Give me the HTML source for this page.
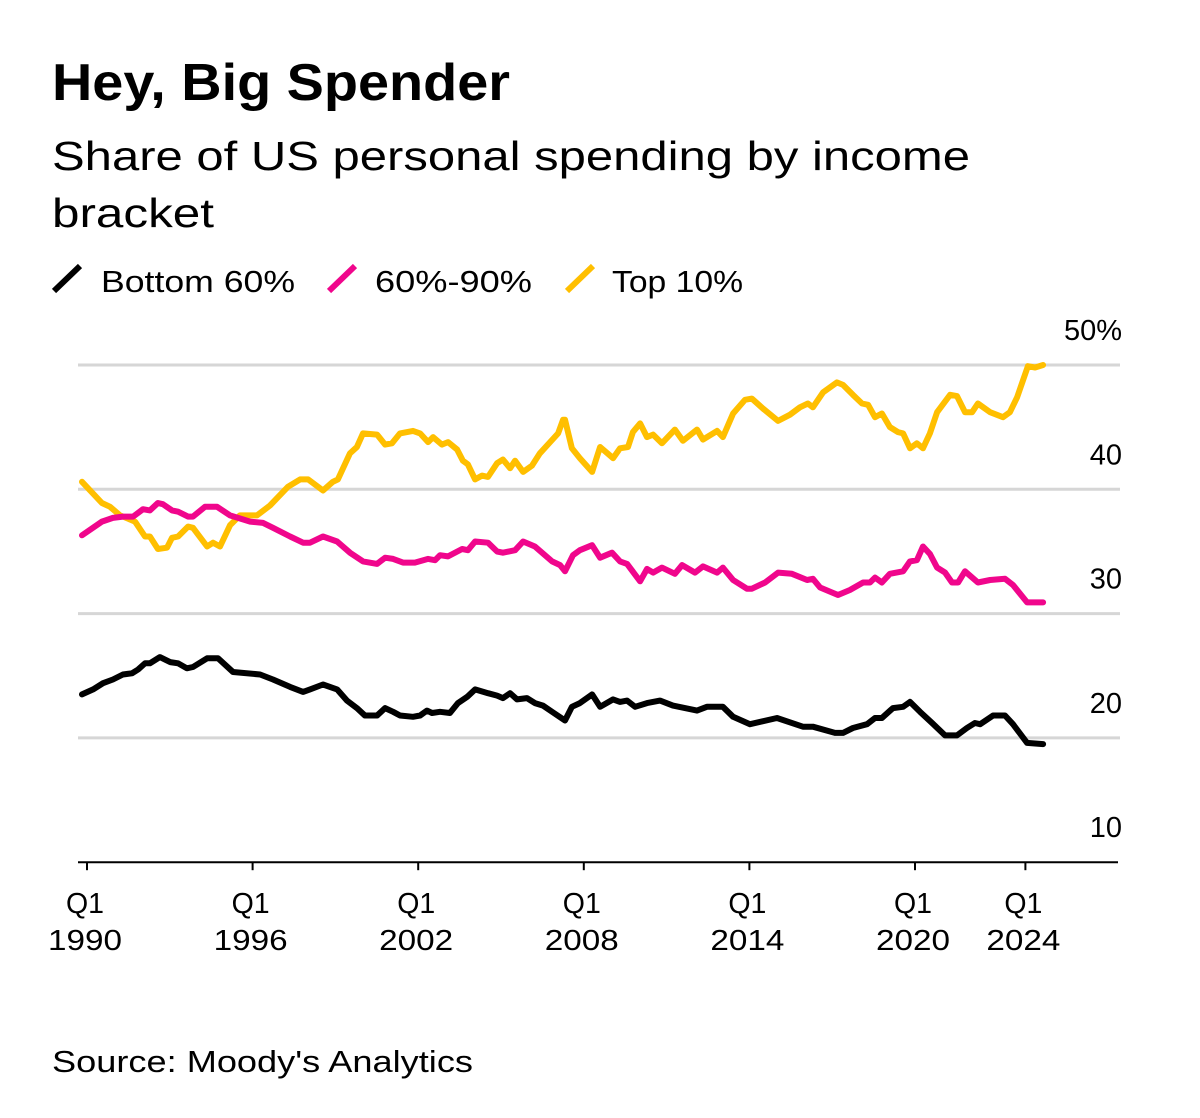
<!DOCTYPE html>
<html><head><meta charset="utf-8"><style>
body{margin:0;background:#fff;width:1200px;height:1118px;overflow:hidden;font-family:"Liberation Sans",Arial,sans-serif;}
svg{position:absolute;left:0;top:0}
</style></head><body>
<svg id="chart" width="1200" height="1118">
<text x="52" y="100" font-size="52" font-weight="bold" fill="#000" textLength="458" lengthAdjust="spacingAndGlyphs">Hey, Big Spender</text>
<text x="52" y="170" font-size="41" fill="#000" textLength="918" lengthAdjust="spacingAndGlyphs">Share of US personal spending by income</text>
<text x="52" y="227" font-size="41" fill="#000" textLength="162" lengthAdjust="spacingAndGlyphs">bracket</text>
<g>
<g><line x1="54" y1="291" x2="80" y2="266" stroke="#000" stroke-width="6"/><text x="101" y="292" font-size="31" textLength="194" lengthAdjust="spacingAndGlyphs">Bottom 60%</text></g>
<g><line x1="329" y1="291" x2="355" y2="266" stroke="#f0068c" stroke-width="6"/><text x="375" y="292" font-size="31" textLength="157" lengthAdjust="spacingAndGlyphs">60%-90%</text></g>
<g><line x1="567" y1="291" x2="593" y2="266" stroke="#ffbf00" stroke-width="6"/><text x="612" y="292" font-size="31" textLength="131" lengthAdjust="spacingAndGlyphs">Top 10%</text></g>
</g>
<g id="grid"></g><g id="xaxis"></g><g id="lines"></g>
<text x="52" y="1072" font-size="31" fill="#000" textLength="421" lengthAdjust="spacingAndGlyphs">Source: Moody's Analytics</text>
</svg>
<script>
const yTicks=[10,20,30,40,50];
const yTickLabels=["10","20","30","40","50%"];
const xTickYears=[1990,1996,2002,2008,2014,2020,2024];
const xTickLabels=["1990","1996","2002","2008","2014","2020","2024"];
const yearsBottom=[1989.82,1990.22,1990.58,1990.94,1991.30,1991.63,1991.85,1992.10,1992.28,1992.64,1993.01,1993.30,1993.62,1993.84,1994.35,1994.75,1995.29,1996.27,1996.74,1997.36,1997.83,1998.08,1998.55,1999.06,1999.42,1999.78,2000.07,2000.51,2000.80,2001.09,2001.34,2001.81,2002.07,2002.32,2002.50,2002.79,2003.15,2003.44,2003.77,2004.06,2004.53,2004.86,2005.07,2005.33,2005.58,2005.94,2006.23,2006.52,2006.85,2007.32,2007.57,2007.86,2008.30,2008.59,2009.06,2009.31,2009.57,2009.86,2010.29,2010.76,2011.23,2012.10,2012.46,2013.04,2013.41,2014.02,2015.00,2015.94,2016.30,2017.10,2017.39,2017.75,2018.26,2018.55,2018.80,2019.20,2019.57,2019.82,2020.18,2020.62,2021.09,2021.52,2021.88,2022.17,2022.36,2022.83,2023.26,2023.55,2024.06,2024.64];
const bottom60=[23.5,23.9,24.4,24.7,25.1,25.2,25.5,26.0,26.0,26.5,26.1,26.0,25.6,25.7,26.4,26.4,25.3,25.1,24.7,24.1,23.7,23.9,24.3,23.9,23.0,22.4,21.8,21.8,22.4,22.1,21.8,21.7,21.8,22.2,22.0,22.1,22.0,22.8,23.3,23.9,23.6,23.4,23.2,23.6,23.1,23.2,22.8,22.6,22.1,21.4,22.5,22.8,23.5,22.5,23.1,22.9,23.0,22.5,22.8,23.0,22.6,22.2,22.5,22.5,21.7,21.1,21.6,20.9,20.9,20.4,20.4,20.8,21.1,21.6,21.6,22.4,22.5,22.9,22.1,21.2,20.2,20.2,20.8,21.2,21.1,21.8,21.8,21.1,19.6,19.5];
const yearsMid=[1989.82,1990.54,1990.94,1991.30,1991.67,1992.03,1992.28,1992.57,1992.75,1993.08,1993.30,1993.66,1993.84,1994.28,1994.71,1995.18,1995.91,1996.38,1996.74,1997.36,1997.83,1998.08,1998.55,1999.06,1999.53,2000.00,2000.51,2000.80,2001.09,2001.45,2001.88,2002.36,2002.61,2002.79,2003.08,2003.59,2003.80,2004.06,2004.53,2004.86,2005.07,2005.51,2005.80,2006.23,2006.85,2007.14,2007.32,2007.61,2007.86,2008.30,2008.59,2009.02,2009.31,2009.57,2010.04,2010.29,2010.51,2010.83,2011.30,2011.56,2012.03,2012.32,2012.83,2013.04,2013.41,2013.91,2014.09,2014.57,2015.04,2015.54,2016.09,2016.30,2016.56,2017.21,2017.64,2018.12,2018.37,2018.55,2018.80,2019.09,2019.57,2019.82,2020.07,2020.29,2020.54,2020.80,2021.09,2021.34,2021.56,2021.81,2022.28,2022.72,2023.26,2023.55,2024.06,2024.64];
const mid6090=[36.3,37.4,37.7,37.8,37.8,38.4,38.3,38.9,38.8,38.3,38.2,37.8,37.8,38.6,38.6,37.9,37.4,37.3,36.9,36.2,35.7,35.7,36.2,35.8,34.9,34.2,34.0,34.5,34.4,34.1,34.1,34.4,34.3,34.7,34.6,35.2,35.1,35.8,35.7,35.0,34.9,35.1,35.8,35.4,34.2,33.9,33.4,34.7,35.1,35.5,34.5,34.9,34.2,34.0,32.6,33.6,33.3,33.7,33.2,33.9,33.3,33.8,33.3,33.7,32.7,32.0,32.0,32.5,33.3,33.2,32.7,32.8,32.1,31.5,31.9,32.5,32.5,32.9,32.5,33.2,33.4,34.2,34.3,35.4,34.8,33.7,33.3,32.5,32.5,33.4,32.5,32.7,32.8,32.3,30.9,30.9];
const yearsTop=[1989.82,1990.54,1990.83,1991.20,1991.74,1992.10,1992.28,1992.57,1992.90,1993.08,1993.30,1993.66,1993.84,1994.35,1994.57,1994.82,1995.18,1995.54,1996.16,1996.63,1997.28,1997.72,1998.01,1998.55,1998.91,1999.09,1999.53,1999.78,2000.00,2000.51,2000.80,2001.05,2001.34,2001.81,2002.07,2002.36,2002.54,2002.86,2003.08,2003.41,2003.62,2003.80,2004.06,2004.31,2004.53,2004.86,2005.07,2005.33,2005.51,2005.80,2006.12,2006.41,2006.78,2007.07,2007.25,2007.32,2007.57,2007.86,2008.30,2008.59,2009.06,2009.31,2009.60,2009.78,2010.04,2010.29,2010.51,2010.83,2011.30,2011.59,2012.10,2012.32,2012.83,2013.04,2013.41,2013.84,2014.09,2014.49,2015.04,2015.47,2015.83,2016.12,2016.30,2016.67,2017.17,2017.39,2017.75,2018.08,2018.30,2018.55,2018.80,2019.09,2019.38,2019.57,2019.82,2020.07,2020.29,2020.54,2020.80,2021.27,2021.52,2021.81,2022.07,2022.28,2022.72,2023.19,2023.44,2023.70,2024.09,2024.35,2024.64];
const top10=[40.6,38.9,38.6,37.9,37.4,36.2,36.2,35.2,35.3,36.1,36.2,37.0,36.9,35.4,35.7,35.4,37.1,37.9,37.9,38.7,40.2,40.8,40.8,39.9,40.6,40.8,42.9,43.4,44.5,44.4,43.6,43.7,44.5,44.7,44.5,43.8,44.2,43.6,43.8,43.2,42.3,42.0,40.8,41.1,41.0,42.1,42.4,41.7,42.3,41.4,41.9,42.9,43.8,44.5,45.6,45.6,43.3,42.5,41.4,43.4,42.5,43.3,43.4,44.6,45.3,44.2,44.4,43.7,44.8,43.9,44.8,44.0,44.7,44.2,46.1,47.2,47.3,46.5,45.5,46.0,46.6,46.9,46.6,47.8,48.6,48.4,47.6,46.9,46.8,45.8,46.1,45.0,44.6,44.5,43.3,43.7,43.3,44.5,46.2,47.6,47.5,46.2,46.2,46.9,46.2,45.8,46.2,47.4,49.9,49.8,50.0];

const NS="http://www.w3.org/2000/svg";
function xS(y){return 87+(y-1990)*27.6;}
function yS(v){return 365+(50-v)*12.43;}
function mk(tag,attrs,parent){const e=document.createElementNS(NS,tag);for(const k in attrs)e.setAttribute(k,attrs[k]);parent.appendChild(e);return e;}
const grid=document.getElementById('grid');
yTicks.forEach((t,i)=>{
  if(t>10){const l=mk('line',{x1:78,x2:1120,y1:yS(t),y2:yS(t),stroke:'#d6d6d6','stroke-width':3},grid);
  
  }
  const tx=mk('text',{x:1122,y:yS(t)-25,'text-anchor':'end','font-size':29,fill:'#000'},grid);
  tx.textContent=yTickLabels[i];
  
  
});
const xa=document.getElementById('xaxis');
const base=mk('line',{x1:78,x2:1118,y1:yS(10),y2:yS(10),stroke:'#000','stroke-width':2},xa);


xTickYears.forEach((yr,i)=>{
  const x=xS(yr);
  const tk=mk('line',{x1:x,x2:x,y1:yS(10),y2:yS(10)+8,stroke:'#000','stroke-width':2},xa);
  
  
  const q=mk('text',{x:x-2,y:913,'text-anchor':'middle','font-size':29,textLength:38,lengthAdjust:'spacingAndGlyphs'},xa);q.textContent='Q1';
  
  
  const t=mk('text',{x:x-2,y:950,'text-anchor':'middle','font-size':29,textLength:74,lengthAdjust:'spacingAndGlyphs'},xa);t.textContent=xTickLabels[i];
  
  
});
const lg=document.getElementById('lines');
function drawLine(xs,vs,color,name){
  const d=xs.map((y,i)=>(i?'L':'M')+xS(y).toFixed(1)+' '+yS(vs[i]).toFixed(1)).join(' ');
  const p=mk('path',{d:d,fill:'none',stroke:color,'stroke-width':6,'stroke-linejoin':'round','stroke-linecap':'round'},lg);
  
  
}
drawLine(yearsTop,top10,'#ffbf00','line-top-10');
drawLine(yearsMid,mid6090,'#f0068c','line-60-90');
drawLine(yearsBottom,bottom60,'#000000','line-bottom-60');
</script>
</body></html>
